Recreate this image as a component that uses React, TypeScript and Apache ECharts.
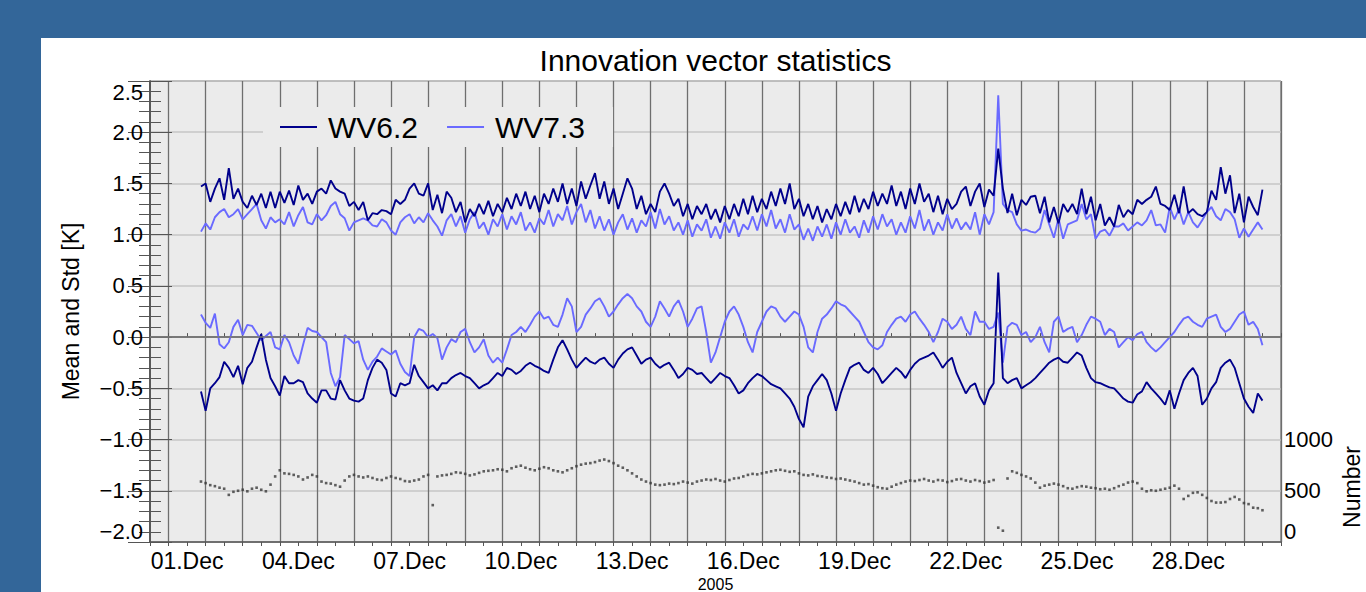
import React, { useEffect, useRef } from "react";
import * as echarts from "echarts";

// Sampling: 3-hourly, first sample 01.Dec 09:00 (x axis unit = days since 30.Nov 00:00)
const START_DAY = 1.375;
const STEP_DAY = 0.125;

const labelDays = [1, 4, 7, 10, 13, 16, 19, 22, 25, 28];
const labelTexts = ["01.Dec", "04.Dec", "07.Dec", "10.Dec", "13.Dec", "16.Dec", "19.Dec", "22.Dec", "25.Dec", "28.Dec"];
const numberTickLabels = [0, 500, 1000];

// Std of WV6.2 innovations [K]
const stdWV62 = [
  1.47, 1.50, 1.32, 1.45, 1.55, 1.34, 1.65, 1.35, 1.45, 1.32,
  1.26, 1.38, 1.29, 1.40, 1.26, 1.42, 1.26, 1.42, 1.31, 1.43,
  1.29, 1.48, 1.34, 1.40, 1.30, 1.42, 1.45, 1.40, 1.53, 1.45,
  1.42, 1.40, 1.28, 1.32, 1.24, 1.32, 1.14, 1.21, 1.20, 1.24,
  1.23, 1.20, 1.34, 1.30, 1.34, 1.45, 1.50, 1.40, 1.38, 1.50,
  1.24, 1.39, 1.21, 1.42, 1.36, 1.22, 1.32, 1.12, 1.25, 1.18,
  1.30, 1.20, 1.33, 1.18, 1.30, 1.22, 1.36, 1.25, 1.40, 1.28,
  1.42, 1.25, 1.38, 1.22, 1.40, 1.30, 1.45, 1.32, 1.50, 1.30,
  1.45, 1.28, 1.52, 1.35, 1.48, 1.60, 1.35, 1.52, 1.30, 1.45,
  1.25, 1.40, 1.55, 1.45, 1.25, 1.38, 1.20, 1.30, 1.22, 1.42,
  1.50, 1.40, 1.28, 1.35, 1.18, 1.30, 1.15, 1.28, 1.20, 1.30,
  1.15, 1.25, 1.12, 1.28, 1.15, 1.30, 1.18, 1.35, 1.20, 1.38,
  1.22, 1.35, 1.25, 1.42, 1.28, 1.45, 1.30, 1.50, 1.25, 1.35,
  1.18, 1.30, 1.15, 1.28, 1.12, 1.25, 1.15, 1.30, 1.18, 1.32,
  1.20, 1.38, 1.22, 1.35, 1.25, 1.42, 1.28, 1.40, 1.30, 1.48,
  1.28, 1.42, 1.25, 1.45, 1.30, 1.50, 1.32, 1.40, 1.22, 1.38,
  1.20, 1.35, 1.25, 1.30, 1.42, 1.47, 1.28, 1.42, 1.50, 1.27,
  1.44, 1.38, 1.84, 1.45, 1.21, 1.40, 1.19, 1.34, 1.29, 1.37,
  1.38, 1.21, 1.37, 1.12, 1.27, 1.11, 1.30, 1.22, 1.30, 1.20,
  1.45, 1.20, 1.37, 1.14, 1.30, 1.09, 1.17, 1.08, 1.29, 1.17,
  1.24, 1.20, 1.34, 1.30, 1.34, 1.37, 1.47, 1.30, 1.28, 1.24,
  1.39, 1.21, 1.47, 1.21, 1.25, 1.20, 1.18, 1.22, 1.43, 1.34,
  1.66, 1.40, 1.58, 1.21, 1.40, 1.12, 1.37, 1.27, 1.19, 1.44,
];

// Std of WV7.3 innovations [K]
const stdWV73 = [
  1.03, 1.11, 1.05, 1.17, 1.22, 1.25, 1.17, 1.20, 1.25, 1.15,
  1.20, 1.25, 1.30, 1.14, 1.06, 1.17, 1.12, 1.15, 1.10, 1.22,
  1.08, 1.19, 1.27, 1.12, 1.10, 1.20, 1.14, 1.19, 1.28, 1.32,
  1.20, 1.16, 1.04, 1.12, 1.14, 1.16, 1.14, 1.09, 1.08, 1.15,
  1.12, 1.04, 1.00, 1.12, 1.17, 1.20, 1.11, 1.17, 1.12, 1.21,
  1.14, 1.08, 0.99, 1.14, 1.20, 1.08, 1.18, 1.02, 1.15, 1.22,
  1.06, 1.12, 1.00, 1.15, 1.08, 1.20, 1.05, 1.18, 1.10, 1.22,
  1.04, 1.12, 1.02, 1.16, 1.10, 1.24, 1.08, 1.20, 1.14, 1.28,
  1.10, 1.22, 1.30, 1.12, 1.24, 1.06, 1.18, 1.04, 1.15, 1.00,
  1.12, 1.20, 1.05, 1.16, 1.02, 1.14, 1.08, 1.22, 1.06, 1.25,
  1.10, 1.18, 1.04, 1.12, 1.00, 1.14, 0.98, 1.10, 1.04, 1.15,
  0.97, 1.08, 0.96, 1.12, 1.02, 1.15, 0.98, 1.10, 1.05, 1.18,
  1.04, 1.20, 1.08, 1.24, 1.06, 1.15, 1.02, 1.20, 1.05, 1.10,
  0.95, 1.06, 0.94, 1.08, 0.98, 1.10, 0.96, 1.12, 1.00, 1.15,
  1.02, 1.08, 0.97, 1.14, 1.02, 1.18, 1.05, 1.20, 1.08, 1.15,
  1.00, 1.12, 1.02, 1.18, 1.06, 1.24, 1.04, 1.15, 1.00, 1.12,
  1.04, 1.20, 1.06, 1.16, 1.05, 1.12, 1.05, 1.22, 1.00, 1.20,
  1.10, 1.22, 2.36, 1.30, 1.24, 1.22, 1.10, 1.04, 1.05, 1.03,
  1.02, 1.06, 1.24, 1.10, 0.97, 1.16, 0.96, 1.10, 1.12, 1.14,
  1.30, 1.15, 1.20, 0.96, 1.03, 1.05, 0.99, 1.08, 1.08, 1.11,
  1.04, 1.08, 1.12, 1.09, 1.14, 1.24, 1.09, 1.10, 1.02, 1.27,
  1.15, 1.25, 1.10, 1.22, 1.12, 1.07, 1.14, 1.22, 1.27, 1.18,
  1.14, 1.25, 1.22, 1.15, 0.97, 1.06, 0.98, 1.05, 1.12, 1.05,
];

// Mean of WV6.2 innovations [K]
const meanWV62 = [
  -0.53, -0.72, -0.50, -0.45, -0.39, -0.24, -0.30, -0.39, -0.28, -0.46,
  -0.30, -0.24, -0.10, 0.03, -0.22, -0.40, -0.48, -0.57, -0.38, -0.45,
  -0.45, -0.42, -0.44, -0.55, -0.60, -0.64, -0.52, -0.52, -0.60, -0.61,
  -0.42, -0.52, -0.60, -0.62, -0.63, -0.60, -0.42, -0.30, -0.22, -0.25,
  -0.32, -0.55, -0.58, -0.45, -0.47, -0.45, -0.27, -0.38, -0.44, -0.50,
  -0.47, -0.52, -0.45, -0.45, -0.40, -0.37, -0.35, -0.38, -0.40, -0.45,
  -0.50, -0.47, -0.45, -0.40, -0.35, -0.38, -0.30, -0.32, -0.36, -0.33,
  -0.28, -0.25, -0.28, -0.30, -0.33, -0.35, -0.22, -0.10, -0.03, -0.12,
  -0.22, -0.30, -0.25, -0.20, -0.24, -0.26, -0.22, -0.20, -0.26, -0.30,
  -0.22, -0.16, -0.12, -0.10, -0.18, -0.26, -0.22, -0.20, -0.26, -0.30,
  -0.27, -0.25, -0.32, -0.40, -0.36, -0.30, -0.32, -0.36, -0.35, -0.40,
  -0.45, -0.40, -0.35, -0.38, -0.40, -0.47, -0.55, -0.52, -0.45, -0.40,
  -0.36, -0.38, -0.42, -0.46, -0.48, -0.50, -0.55, -0.60, -0.68, -0.80,
  -0.88, -0.58, -0.48, -0.42, -0.36, -0.42, -0.55, -0.72, -0.55, -0.42,
  -0.30, -0.27, -0.25, -0.32, -0.35, -0.30, -0.36, -0.45, -0.40, -0.35,
  -0.30, -0.34, -0.40, -0.32, -0.26, -0.22, -0.20, -0.18, -0.15, -0.22,
  -0.30, -0.24, -0.20, -0.35, -0.45, -0.55, -0.48, -0.45, -0.58, -0.66,
  -0.52, -0.45, 0.63, -0.40, -0.45, -0.42, -0.40, -0.50, -0.47, -0.44,
  -0.40, -0.35, -0.30, -0.25, -0.22, -0.20, -0.24, -0.25, -0.20, -0.15,
  -0.18, -0.30, -0.40, -0.44, -0.45, -0.47, -0.49, -0.50, -0.55, -0.60,
  -0.63, -0.64, -0.56, -0.53, -0.44, -0.50, -0.55, -0.60, -0.66, -0.52,
  -0.70, -0.55, -0.42, -0.35, -0.30, -0.38, -0.66, -0.60, -0.50, -0.44,
  -0.30, -0.25, -0.22, -0.30, -0.45, -0.60, -0.68, -0.74, -0.55, -0.62,
];

// Mean of WV7.3 innovations [K]
const meanWV73 = [
  0.22, 0.14, 0.09, 0.23, -0.07, -0.11, -0.05, 0.10, 0.17, 0.02,
  0.12, 0.11, 0.04, -0.03, 0.01, 0.05, -0.10, -0.12, 0.02, -0.05,
  -0.18, -0.26, -0.08, 0.09, 0.06, 0.05, 0.00, -0.05, -0.35, -0.48,
  -0.39, 0.02, -0.02, -0.06, -0.04, -0.22, -0.32, -0.24, -0.19, -0.11,
  -0.14, -0.17, -0.13, -0.26, -0.34, -0.38, 0.00, 0.08, 0.06, 0.00,
  0.03, -0.01, -0.22, -0.10, -0.02, -0.05, 0.05, 0.08, -0.05, -0.15,
  -0.10, -0.02, -0.18, -0.25, -0.20, -0.25, -0.12, 0.02, 0.05, 0.10,
  0.05, 0.12, 0.20, 0.25, 0.18, 0.20, 0.12, 0.10, 0.22, 0.38,
  0.30, 0.05, 0.10, 0.22, 0.28, 0.35, 0.38, 0.30, 0.20, 0.25,
  0.32, 0.38, 0.42, 0.38, 0.30, 0.25, 0.15, 0.10, 0.20, 0.35,
  0.28, 0.20, 0.30, 0.36, 0.25, 0.10, 0.18, 0.28, 0.30, 0.05,
  -0.25, -0.15, 0.00, 0.15, 0.25, 0.30, 0.22, 0.10, -0.05, -0.15,
  0.05, 0.15, 0.25, 0.30, 0.28, 0.20, 0.15, 0.20, 0.25, 0.22,
  0.10, -0.10, -0.15, 0.05, 0.18, 0.22, 0.28, 0.35, 0.32, 0.30,
  0.25, 0.20, 0.15, 0.05, -0.05, -0.10, -0.12, -0.08, 0.05, 0.12,
  0.18, 0.20, 0.15, 0.22, 0.25, 0.18, 0.12, 0.05, -0.05, 0.05,
  0.18, 0.15, 0.08, 0.12, 0.20, 0.08, 0.02, 0.25, 0.15, 0.15,
  0.08, 0.10, 0.24, -0.25, 0.10, 0.14, 0.12, 0.02, 0.05, -0.05,
  0.00, 0.10, -0.05, -0.15, 0.15, 0.20, 0.05, 0.08, 0.10, -0.05,
  0.02, 0.12, 0.20, 0.18, 0.15, 0.02, 0.08, 0.05, -0.10, -0.05,
  0.00, -0.03, 0.03, 0.05, -0.05, -0.10, -0.14, -0.10, -0.05, 0.00,
  0.05, 0.12, 0.18, 0.20, 0.15, 0.12, 0.10, 0.18, 0.20, 0.22,
  0.10, 0.05, 0.08, 0.15, 0.22, 0.25, 0.12, 0.15, 0.08, -0.08,
];

// Number of observations (right axis)
const obsNumber = [
  590, 575, 555, 545, 530, 520, 460, 490, 500, 510,
  495, 520, 530, 510, 495, 560, 640, 700, 670, 665,
  655, 640, 610, 630, 655, 640, 590, 575, 570, 555,
  540, 600, 640, 655, 640, 630, 640, 625, 610, 605,
  625, 640, 625, 615, 595, 590, 600, 610, 640, 655,
  360, 640, 650, 655, 665, 680, 675, 665, 650, 660,
  675, 690, 695, 700, 710, 705, 690, 720, 735, 745,
  725, 710, 700, 715, 730, 720, 700, 690, 680, 700,
  720, 740, 755, 765, 770, 780, 795, 805, 790, 770,
  745, 725, 700, 670, 640, 610, 590, 575, 560, 555,
  560, 570, 565, 575, 590, 580, 570, 590, 600, 610,
  605, 615, 600, 590, 605, 620, 625, 640, 655, 665,
  660, 670, 680, 690, 700, 705, 695, 685, 690, 670,
  655, 650, 660, 645, 640, 630, 625, 615, 620, 610,
  600, 590, 575, 560, 565, 550, 535, 525, 520, 540,
  560, 575, 590, 600, 595, 605, 615, 600, 590, 605,
  600, 585, 595, 610, 615, 600, 590, 605, 595, 580,
  590, 605, 140, 110, 620, 690, 675, 655, 640, 620,
  580, 530, 550, 560, 570, 560, 545, 525, 520, 535,
  545, 540, 530, 525, 515, 520, 510, 525, 545, 560,
  580, 590, 575, 520, 495, 505, 500, 510, 520, 530,
  550, 520, 420, 450, 480, 485, 460, 430, 400, 385,
  385, 390, 420, 440, 415, 380, 370, 335, 330, 310,
];

const DARK = "#00008c";
const LIGHT = "#6a6aff";
const AXIS = "#555555";
const FONT = "'Liberation Sans', Arial, Helvetica, sans-serif";

export default function App() {
  const ref = useRef<HTMLDivElement>(null);

  useEffect(() => {
    if (!ref.current) return;
    const chart = echarts.init(ref.current, null, { renderer: "svg" });
    const pairs = (arr: number[]) => arr.map((v, i) => [START_DAY + STEP_DAY * i, v]);
    const lineSeries = (name: string, data: number[], color: string, extra: any = {}) => ({
      name,
      type: "line",
      data: pairs(data),
      xAxisIndex: 0,
      yAxisIndex: 0,
      showSymbol: false,
      symbol: "none",
      lineStyle: { color, width: 1.9 },
      itemStyle: { color },
      silent: true,
      ...extra,
    });

    chart.setOption({
      animation: false,
      backgroundColor: "#ffffff",
      textStyle: { fontFamily: FONT, color: "#000" },
      grid: {
        left: 109,
        right: 85,
        top: 43,
        bottom: 50,
        outerBoundsMode: "none",
        containLabel: false,
        show: true,
        backgroundColor: "#ebebeb",
        borderColor: AXIS,
        borderWidth: 1,
      },
      graphic: [
        {
          type: "text",
          x: 674.5,
          y: 22,
          style: {
            text: "Innovation vector statistics",
            fontSize: 30,
            fontFamily: FONT,
            fill: "#000",
            textAlign: "center",
            textVerticalAlign: "middle",
          },
        },
        {
          type: "text",
          x: 1311,
          y: 449,
          rotation: Math.PI / 2,
          style: {
            text: "Number",
            fontSize: 23,
            fontFamily: FONT,
            fill: "#000",
            textAlign: "center",
            textVerticalAlign: "middle",
          },
        },
      ],
      legend: {
        data: ["WV6.2", "WV7.3"],
        left: 222,
        top: 69,
        orient: "horizontal",
        icon: "rect",
        itemWidth: 37,
        itemHeight: 2,
        itemGap: 29,
        padding: [5, 28, 5, 17],
        backgroundColor: "#ebebeb",
        selectedMode: false,
        textStyle: { fontSize: 30, fontFamily: FONT, color: "#000", lineHeight: 30, padding: [0, 0, 0, 6] },
      },
      xAxis: [
        {
          type: "value",
          min: 0,
          max: 30.5,
          interval: 0.5,
          position: "bottom",
          name: "2005",
          nameLocation: "middle",
          nameGap: 33,
          nameTextStyle: { fontSize: 16, color: "#000", fontFamily: FONT, verticalAlign: "top", lineHeight: 16 },
          axisLine: { show: true, lineStyle: { color: AXIS, width: 1.5 } },
          axisTick: { show: true, inside: true, length: 4, lineStyle: { color: AXIS } },
          axisLabel: {
            fontSize: 23,
            color: "#000",
            margin: 7,
            fontFamily: FONT,
            formatter: (v: number) => {
              const k = labelDays.findIndex((d) => Math.abs(d - v) < 1e-6);
              return k >= 0 ? labelTexts[k] : "";
            },
          },
          splitLine: {
            show: true,
            lineStyle: { color: ["rgba(0,0,0,0)", "#6e6e6e"], width: 1.3 },
          },
        },
        {
          type: "value",
          min: 0,
          max: 30.5,
          interval: 0.5,
          position: "top",
          axisLine: { show: true, lineStyle: { color: AXIS, width: 1.5 } },
          axisTick: { show: true, inside: true, length: 4, lineStyle: { color: AXIS } },
          axisLabel: { show: false },
          splitLine: { show: false },
        },
      ],
      yAxis: [
        {
          type: "value",
          min: -2.0,
          max: 2.5,
          interval: 0.5,
          position: "left",
          name: "Mean and Std [K]",
          nameLocation: "middle",
          nameGap: 68,
          nameRotate: 90,
          nameTextStyle: { fontSize: 23, color: "#000", fontFamily: FONT },
          axisLine: { show: true, lineStyle: { color: AXIS, width: 1.5 } },
          axisTick: { show: true, inside: true, length: 22, lineStyle: { color: AXIS } },
          minorTick: { show: true, splitNumber: 5, length: 11, lineStyle: { color: AXIS } },
          axisLabel: {
            fontSize: 22,
            color: "#000",
            margin: 7,
            fontFamily: FONT,
            verticalAlignMaxLabel: "top",
            verticalAlignMinLabel: "bottom",
            formatter: (v: number) => v.toFixed(1).replace("-", "\u2212"),
          },
          splitLine: { show: true, lineStyle: { color: "#c6c6c6", width: 1.5 } },
        },
        {
          type: "value",
          min: 0,
          max: 4500,
          interval: 500,
          position: "right",
          axisLine: { show: true, lineStyle: { color: AXIS, width: 1.5 } },
          axisTick: { show: true, inside: true, length: 22, lineStyle: { color: AXIS } },
          minorTick: { show: true, splitNumber: 5, length: 11, lineStyle: { color: AXIS } },
          axisLabel: {
            fontSize: 22,
            color: "#000",
            margin: 3,
            fontFamily: FONT,
            verticalAlignMinLabel: "bottom",
            formatter: (v: number) => (numberTickLabels.indexOf(v) >= 0 ? String(v) : ""),
          },
          splitLine: { show: false },
        },
      ],
      series: [
        lineSeries("WV7.3", stdWV73, LIGHT, {
          markLine: {
            silent: true,
            symbol: ["none", "none"],
            label: { show: false },
            lineStyle: { color: "#7a7a7a", width: 1.5, type: "solid" },
            data: [{ yAxis: 0 }],
          },
        }),
        lineSeries("WV7.3", meanWV73, LIGHT),
        lineSeries("WV6.2", stdWV62, DARK),
        lineSeries("WV6.2", meanWV62, DARK),
        {
          name: "Number",
          type: "scatter",
          xAxisIndex: 0,
          yAxisIndex: 1,
          data: pairs(obsNumber),
          symbol: "rect",
          symbolSize: 2.6,
          itemStyle: { color: "#3a3a3a" },
          silent: true,
        },
      ],
    });

    return () => chart.dispose();
  }, []);

  return (
    <div
      style={{
        position: "absolute",
        left: 0,
        top: 0,
        width: 1366,
        height: 592,
        background: "#336699",
        overflow: "hidden",
      }}
    >
      <div
        ref={ref}
        style={{ position: "absolute", left: 41, top: 38, width: 1325, height: 554, background: "#fff" }}
      />
    </div>
  );
}
